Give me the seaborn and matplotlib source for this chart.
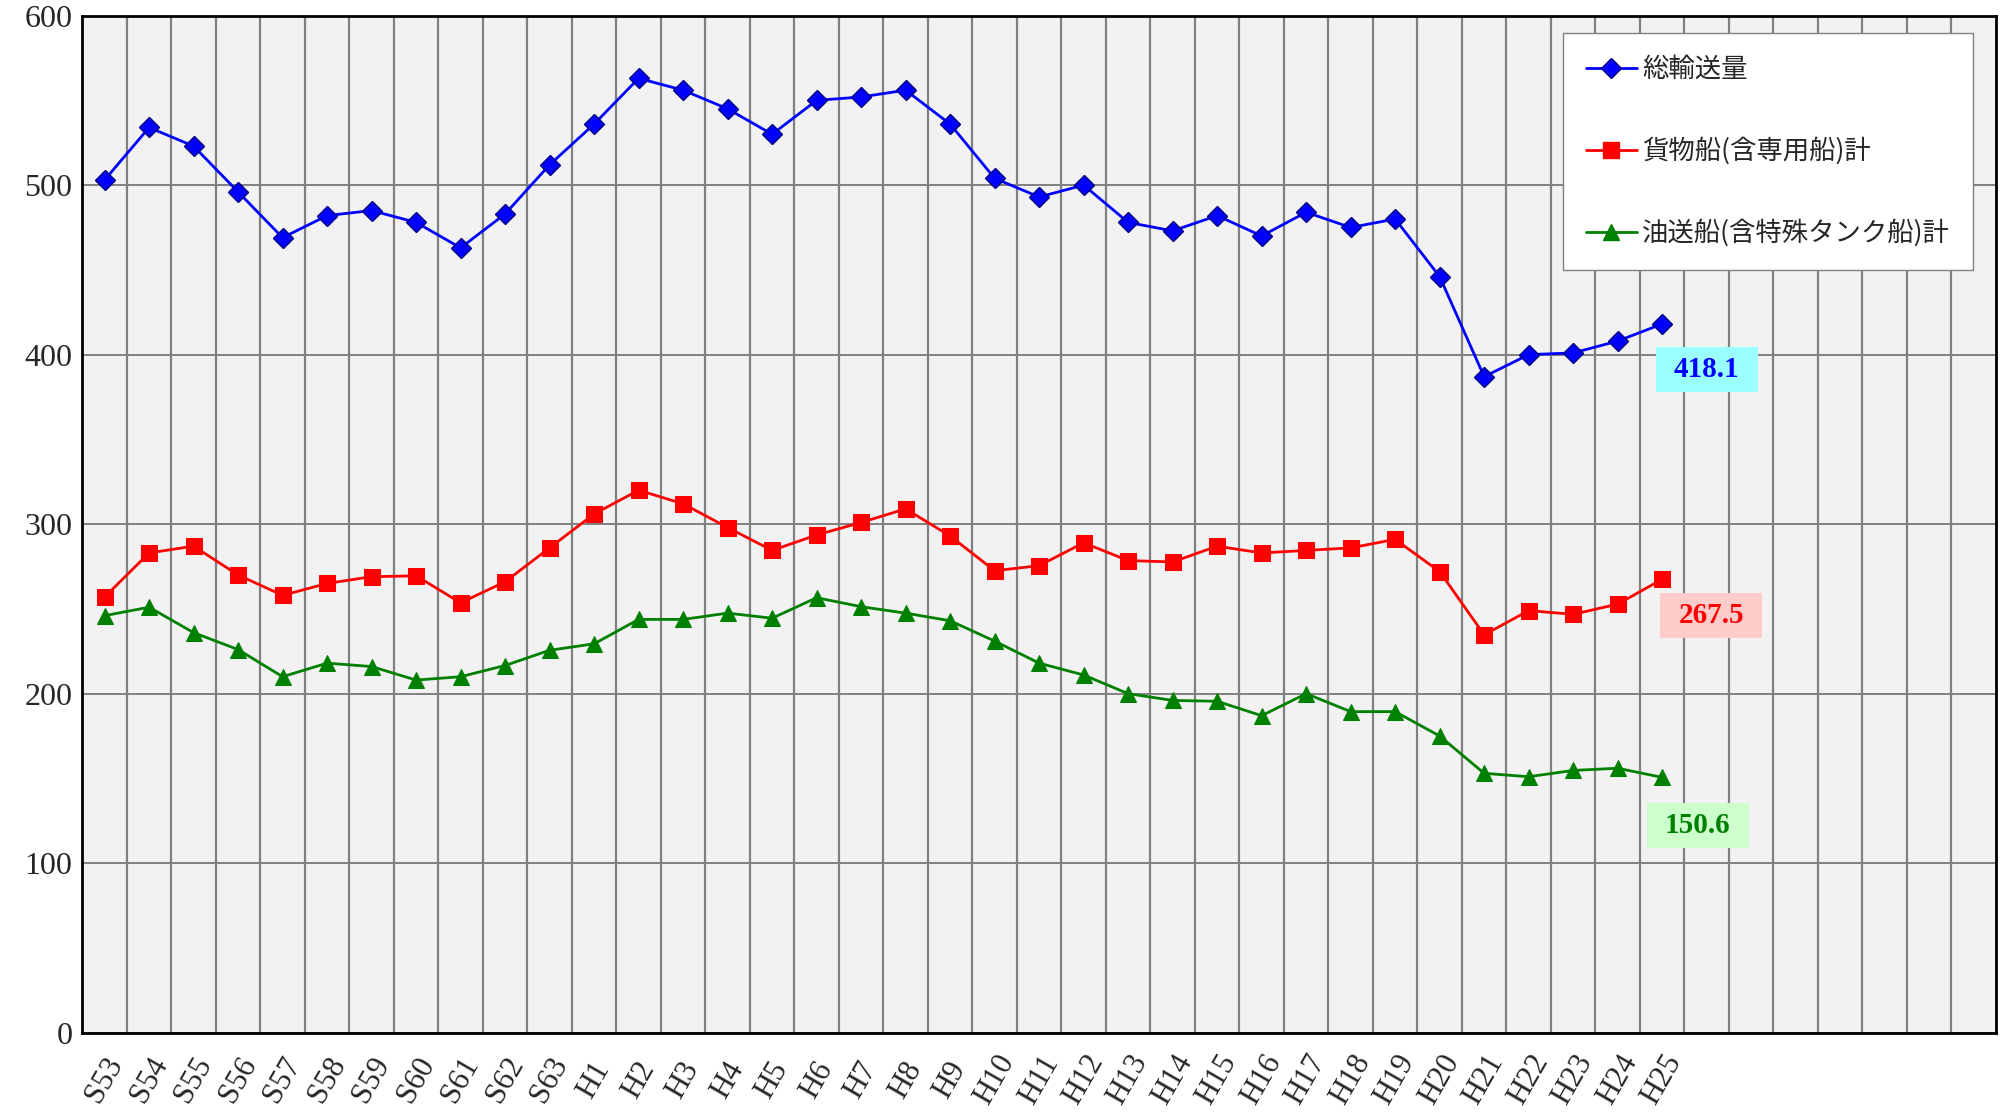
import numpy as np
import pandas as pd
import seaborn as sns
import matplotlib.pyplot as plt
from matplotlib.lines import Line2D

# fiscal years (Showa 53 .. Heisei 25); axis keeps 7 empty slots on the right
years = ["S53", "S54", "S55", "S56", "S57", "S58", "S59", "S60", "S61", "S62", "S63",
         "H1", "H2", "H3", "H4", "H5", "H6", "H7", "H8", "H9", "H10",
         "H11", "H12", "H13", "H14", "H15", "H16", "H17", "H18", "H19", "H20",
         "H21", "H22", "H23", "H24", "H25"]
n_slots = 43

total = [503, 534, 523, 496, 469, 482, 485, 478, 463, 483, 512,
         536, 563, 556, 545, 530, 550, 552, 556, 536, 504,
         493, 500, 478, 473, 482, 470, 484, 475, 480, 446,
         387, 400, 401, 408, 418.1]
cargo = [257, 283, 287, 270, 258, 265, 269, 269.5, 253.6, 266, 286,
         306, 320, 312, 298, 284.5, 293.6, 301, 309, 293, 272.5,
         275.5, 289, 278.5, 277.7, 287, 283, 284.5, 286, 291, 272,
         234.7, 249, 246.8, 252.8, 267.5]
tanker = [246, 251, 236, 226, 210, 218, 216, 208, 210, 216.6, 225.6,
          229.4, 243.8, 243.8, 247.5, 244.5, 256.6, 251.3, 247.5, 243, 231,
          218, 211, 200, 196, 195.5, 187, 200, 189.4, 189.4, 175,
          153, 151, 154.7, 156, 150.6]

labels = ["総輸送量", "貨物船(含専用船)計", "油送船(含特殊タンク船)計"]

df = pd.DataFrame({"idx": np.arange(len(years)), "total": total,
                   "cargo": cargo, "tanker": tanker})

sns.set_theme(style="white")
plt.rcParams['font.family'] = ['Liberation Serif', 'DejaVu Serif']

fig, ax = plt.subplots(figsize=(20.08, 11.14), dpi=100)
fig.subplots_adjust(left=0.041, right=0.994, top=0.986, bottom=0.073)
ax.set_facecolor("#f2f2f2")

sns.lineplot(data=df, x="idx", y="total", ax=ax, color="#0000ff", lw=2,
             marker="D", markersize=10, markerfacecolor="#0000ff",
             markeredgecolor="#000080", markeredgewidth=1)
sns.lineplot(data=df, x="idx", y="cargo", ax=ax, color="#ff0000", lw=2,
             marker="s", markersize=11, markerfacecolor="#ff0000",
             markeredgecolor="#ff0000")
sns.lineplot(data=df, x="idx", y="tanker", ax=ax, color="#008000", lw=2,
             marker="^", markersize=11, markerfacecolor="#008000",
             markeredgecolor="#008000")

ax.set_xlim(-0.5, n_slots - 0.5)
ax.set_ylim(0, 600)
ax.set_yticks(range(0, 601, 100))
ax.set_xticks(np.arange(len(years)))
ax.set_xticklabels(years, rotation=60, ha="center", va="center",
                   rotation_mode="anchor", fontsize=22)
ax.set_xticks(np.arange(0.5, n_slots - 0.5, 1), minor=True)
ax.tick_params(axis="x", which="major", length=0, pad=34)
ax.tick_params(axis="x", which="minor", length=6, width=1.5, color="#808080", direction="in")
ax.tick_params(axis="y", labelsize=23, length=0, pad=7)
ax.set_xlabel("")
ax.set_ylabel("")

ax.grid(axis="x", which="minor", color="#808080", lw=1.6)
ax.grid(axis="y", which="major", color="#808080", lw=1.4)
ax.set_axisbelow(True)
for s in ax.spines.values():
    s.set_color("black")
    s.set_linewidth(2)

# end-of-series value boxes
box = dict(boxstyle="square,pad=0.62", ec="none")
ax.text(36, 391, "418.1", color="#0000ff", fontsize=21, fontweight="bold",
        ha="center", va="center", bbox=dict(box, fc="#99ffff"))
ax.text(36.1, 246, "267.5", color="#ff0000", fontsize=21, fontweight="bold",
        ha="center", va="center", bbox=dict(box, fc="#ffcccc"))
ax.text(35.8, 122, "150.6", color="#008000", fontsize=21, fontweight="bold",
        ha="center", va="center", bbox=dict(box, fc="#ccffcc"))
for t in ax.texts:
    t.get_bbox_patch().set_mutation_aspect(0.5)

handles = [
    Line2D([], [], color="#0000ff", lw=2, marker="D", markersize=10,
           markerfacecolor="#0000ff", markeredgecolor="#000080"),
    Line2D([], [], color="#ff0000", lw=2, marker="s", markersize=11),
    Line2D([], [], color="#008000", lw=2, marker="^", markersize=11),
]
leg = ax.legend(handles, labels, loc="upper right", bbox_to_anchor=(0.988, 0.983),
                prop={"family": ["Noto Sans CJK JP", "DejaVu Sans"], "size": 19},
                frameon=True, fancybox=False, labelspacing=2.06, borderpad=0.87,
                handlelength=1.93, handletextpad=0.2, borderaxespad=0)
leg.get_frame().set_edgecolor("#808080")
leg.get_frame().set_facecolor("white")
leg.get_frame().set_alpha(1)

plt.savefig("out.png", dpi=100)
plt.close(fig)
